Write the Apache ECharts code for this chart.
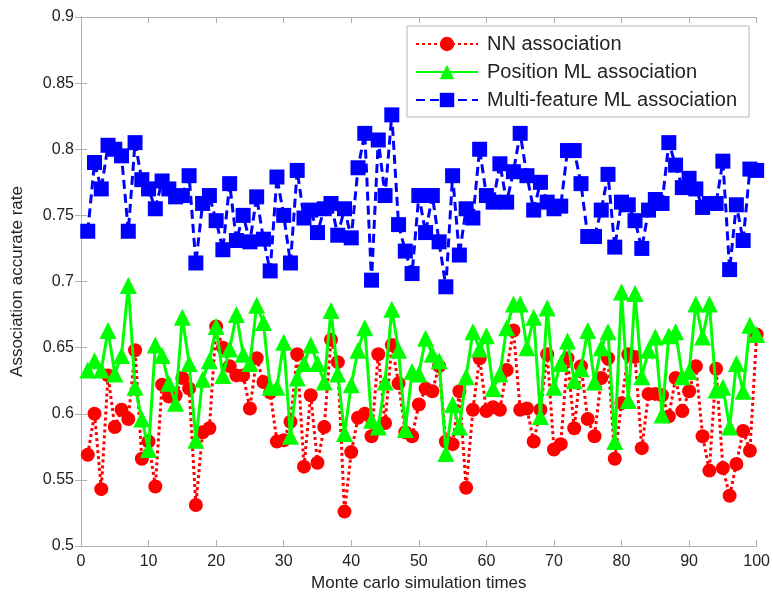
<!DOCTYPE html>
<html>
<head>
<meta charset="utf-8">
<script src="https://cdn.jsdelivr.net/npm/echarts@6/dist/echarts.min.js"></script>
<style>html,body{margin:0;padding:0;background:#fff}#c{width:773px;height:601px}</style>
</head>
<body>
<div id="c"></div>
<script>
// Monte Carlo run index 1..100
const runs = Array.from({length: 100}, (_, k) => k + 1);

const nnAssoc = [
0.569,0.600,0.543,0.629,0.590,0.603,0.596,0.648,0.566,0.579,
0.545,0.622,0.613,0.614,0.627,0.619,0.531,0.586,0.589,0.666,
0.650,0.636,0.629,0.629,0.604,0.642,0.624,0.616,0.579,0.580,
0.594,0.645,0.560,0.614,0.563,0.590,0.656,0.639,0.526,0.571,
0.597,0.600,0.583,0.645,0.593,0.652,0.623,0.586,0.583,0.607,
0.619,0.617,0.636,0.579,0.577,0.617,0.544,0.603,0.642,0.602,
0.605,0.603,0.633,0.663,0.603,0.604,0.579,0.603,0.645,0.573,
0.577,0.642,0.589,0.636,0.596,0.583,0.627,0.642,0.566,0.608,
0.645,0.643,0.574,0.615,0.615,0.614,0.598,0.627,0.602,0.617,
0.636,0.583,0.557,0.634,0.559,0.538,0.562,0.587,0.572,0.660];

const posML = [
0.633,0.640,0.633,0.663,0.630,0.644,0.697,0.620,0.596,0.573,
0.652,0.644,0.623,0.608,0.673,0.638,0.580,0.626,0.640,0.666,
0.629,0.649,0.675,0.645,0.638,0.682,0.669,0.620,0.620,0.654,
0.583,0.627,0.638,0.652,0.638,0.624,0.678,0.630,0.585,0.622,
0.648,0.665,0.595,0.590,0.624,0.679,0.648,0.588,0.632,0.630,
0.657,0.645,0.640,0.570,0.607,0.590,0.628,0.662,0.649,0.659,
0.619,0.630,0.665,0.683,0.683,0.650,0.673,0.598,0.680,0.620,
0.638,0.655,0.625,0.634,0.663,0.624,0.650,0.662,0.579,0.692,
0.610,0.691,0.628,0.648,0.658,0.599,0.659,0.662,0.628,0.632,
0.683,0.658,0.683,0.618,0.620,0.590,0.638,0.617,0.667,0.660];

const multiML = [
0.738,0.790,0.770,0.803,0.800,0.795,0.738,0.805,0.777,0.770,
0.755,0.776,0.770,0.764,0.765,0.780,0.714,0.759,0.765,0.746,
0.724,0.774,0.731,0.750,0.730,0.764,0.732,0.708,0.779,0.750,
0.714,0.784,0.748,0.754,0.737,0.755,0.759,0.735,0.755,0.733,
0.786,0.812,0.701,0.807,0.765,0.826,0.743,0.723,0.706,0.765,
0.737,0.765,0.730,0.696,0.780,0.720,0.755,0.748,0.800,0.765,
0.760,0.789,0.760,0.783,0.812,0.780,0.754,0.775,0.760,0.755,
0.757,0.799,0.799,0.774,0.734,0.734,0.754,0.781,0.726,0.760,
0.758,0.746,0.725,0.754,0.762,0.759,0.805,0.788,0.771,0.778,
0.770,0.756,0.759,0.759,0.791,0.709,0.758,0.731,0.785,0.784];

const seriesNames = ['NN association', 'Position ML association', 'Multi-feature ML association'];
const xTitle = 'Monte carlo simulation times';
const yTitle = 'Association accurate rate';

const pair = arr => runs.map((r, k) => [r, arr[k]]);
const FONT = 'Liberation Sans, Arial, sans-serif';
const AX = '#b0b0b0';

const chart = echarts.init(document.getElementById('c'), null, {renderer: 'canvas'});
const baseX = {
  type: 'value', min: 0, max: 100, interval: 10,
  axisLine: {lineStyle: {color: AX, width: 1}},
  axisTick: {inside: true, length: 6, lineStyle: {color: AX}},
  splitLine: {show: false}
};
const baseY = {
  type: 'value', min: 0.5, max: 0.9, interval: 0.05,
  axisLine: {show: true, lineStyle: {color: AX, width: 1}},
  axisTick: {show: true, inside: true, length: 6, lineStyle: {color: AX}},
  splitLine: {show: false}
};
chart.setOption({
  animation: false,
  backgroundColor: '#fff',
  grid: {left: 81, right: 16, top: 17, bottom: 55},
  legend: {
    orient: 'vertical', left: 407, top: 26,
    itemWidth: 62, itemHeight: 18, itemGap: 8,
    padding: [8, 12, 7, 8],
    backgroundColor: '#fff', borderColor: '#b8b8b8', borderWidth: 1,
    textStyle: {fontFamily: FONT, fontSize: 20, color: '#222', padding: [0, 0, 0, 4]},
    data: seriesNames
  },
  xAxis: [
    Object.assign({}, baseX, {
      position: 'bottom',
      name: xTitle, nameLocation: 'middle', nameGap: 28,
      nameTextStyle: {fontFamily: FONT, fontSize: 17, color: '#222'},
      axisLabel: {fontFamily: FONT, fontSize: 16, color: '#222', margin: 8}
    }),
    Object.assign({}, baseX, {position: 'top', axisLabel: {show: false}})
  ],
  yAxis: [
    Object.assign({}, baseY, {
      position: 'left',
      name: yTitle, nameLocation: 'middle', nameGap: 55, nameRotate: 90,
      nameTextStyle: {fontFamily: FONT, fontSize: 17, color: '#222'},
      axisLabel: {fontFamily: FONT, fontSize: 16, color: '#222', margin: 7,
                  formatter: v => String(+v.toFixed(2))}
    }),
    Object.assign({}, baseY, {position: 'right', axisLabel: {show: false}})
  ],
  series: [
    {
      name: seriesNames[0], type: 'line', data: pair(nnAssoc),
      symbol: 'circle', symbolSize: 14,
      itemStyle: {color: '#ff0000'},
      lineStyle: {color: '#ff0000', width: 3, type: [3, 3]},
      z: 2
    },
    {
      name: seriesNames[1], type: 'line', data: pair(posML),
      symbol: 'triangle', symbolSize: 17,
      itemStyle: {color: '#00ff00'},
      lineStyle: {color: '#00ff00', width: 3, type: 'solid'},
      z: 3
    },
    {
      name: seriesNames[2], type: 'line', data: pair(multiML),
      symbol: 'rect', symbolSize: 15,
      itemStyle: {color: '#0000ff'},
      lineStyle: {color: '#0000ff', width: 3, type: [9, 5]},
      z: 4
    }
  ]
});
</script>
</body>
</html>
